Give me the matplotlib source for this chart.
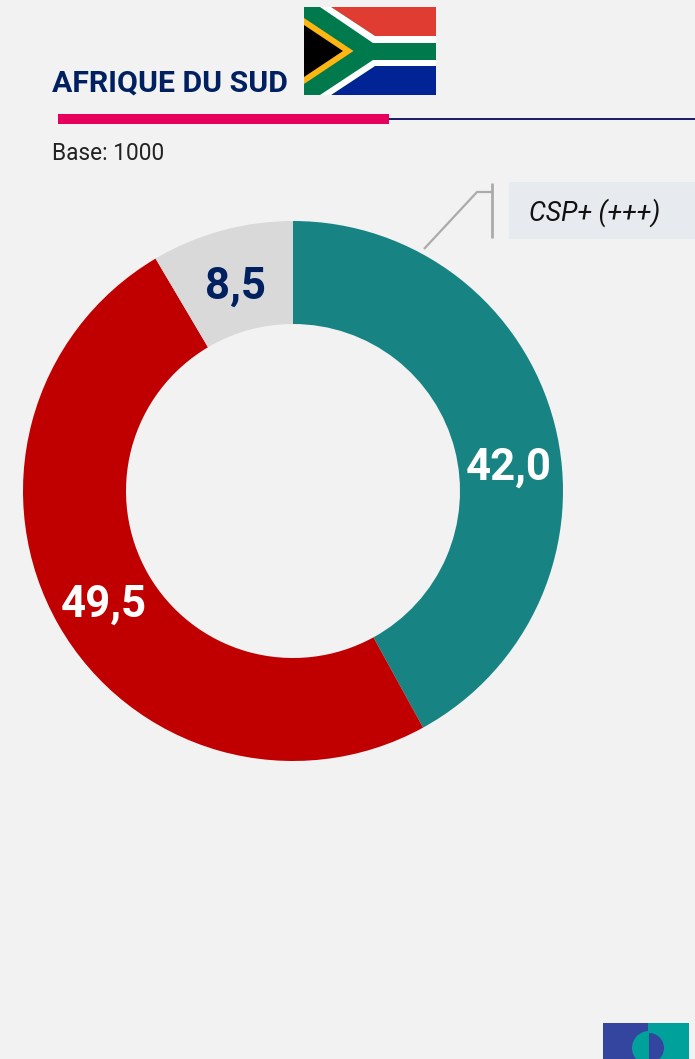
"""Donut chart for the Afrique du Sud CSP+ share, with flag and header rule."""
import matplotlib
matplotlib.use("Agg")
import matplotlib.pyplot as plt
from matplotlib.patches import Polygon, Rectangle, Wedge

W, H = 695, 1059

shares = [42.0, 49.5, 8.5]
share_labels = ["42,0", "49,5", "8,5"]
share_colors = ["#178483", "#C00000", "#D9D9D9"]
label_colors = ["white", "white", "#002060"]
label_pos = [(509, 467.5), (104, 604.5), (235.5, 286.5)]

TITLE = "AFRIQUE DU SUD"
BASE = "Base: 1000"
CALLOUT = "CSP+ (+++)"
BG = "#F2F2F2"
NAVY = "#002060"
FONT = ["Roboto", "DejaVu Sans"]

plt.rcParams["font.family"] = FONT


def draw_flag(ax):
    ax.add_patch(Rectangle((304, 7), 132, 88, color="#007A4D", lw=0))
    ax.add_patch(Polygon([(331, 7), (436, 7), (436, 36), (375, 36)], color="#E03C31", lw=0))
    ax.add_patch(Polygon([(331, 95), (436, 95), (436, 66), (375, 66)], color="#002395", lw=0))
    ax.add_patch(Polygon([(320, 7), (331, 7), (375, 36), (436, 36), (436, 43), (373, 43)],
                         color="white", lw=0))
    ax.add_patch(Polygon([(320, 95), (331, 95), (375, 66), (436, 66), (436, 60), (373, 60)],
                         color="white", lw=0))
    ax.add_patch(Polygon([(304, 18), (353.5, 51), (304, 84)], color="#FFB612", lw=0))
    ax.add_patch(Polygon([(304, 25), (343, 51), (304, 77)], color="black", lw=0))


def draw_logo(ax):
    ax.add_patch(Rectangle((603, 1023), 45, 36, color="#34459F", lw=0))
    ax.add_patch(Rectangle((648, 1023), 41, 36, color="#00A19A", lw=0))
    ax.add_patch(Wedge((649, 1048), 17, 90, 270, color="#00A19A", lw=0))
    ax.add_patch(Wedge((649, 1048), 15, 270, 90, color="#34459F", lw=0))


fig = plt.figure(figsize=(W / 100, H / 100), dpi=100, facecolor=BG)

# pixel-space layer for header and decoration
deco = fig.add_axes([0, 0, 1, 1])
deco.set_xlim(0, W)
deco.set_ylim(H, 0)
deco.axis("off")

deco.text(52, 83.5, TITLE, fontsize=21.8, fontweight="bold", color=NAVY, va="center", ha="left")
draw_flag(deco)
deco.add_patch(Rectangle((389, 118), 306, 2, color="#1F1F6B", lw=0))
deco.add_patch(Rectangle((58, 114), 331, 10, color="#E6005C", lw=0))
deco.text(52, 153, BASE, fontsize=16.3, color="#222222", va="center", ha="left")

deco.plot([424, 477, 492], [249, 192, 192], color="#ABABAB", lw=1.6, solid_capstyle="butt")
deco.plot([492, 492], [183, 238], color="#ABABAB", lw=2, solid_capstyle="butt")
deco.add_patch(Rectangle((509, 182), 186, 57, color="#E7EAEE", lw=0))
deco.text(529, 212.5, CALLOUT, fontsize=19.2, style="italic", color="#111111",
          va="center", ha="left")
draw_logo(deco)

# donut
R, CX, CY = 270, 293, 491
ax = fig.add_axes([(CX - R) / W, 1 - (CY + R) / H, 2 * R / W, 2 * R / H])
ax.pie(shares, colors=share_colors, startangle=90, counterclock=False, radius=1,
       wedgeprops={"width": 103 / R, "linewidth": 0})
ax.set_xlim(-1, 1)
ax.set_ylim(-1, 1)
ax.patch.set_alpha(0)

for lab, col, (x, y) in zip(share_labels, label_colors, label_pos):
    deco.text(x, y, lab, fontsize=31.5, fontweight="bold", color=col, ha="center", va="center",
              zorder=10)
deco.set_zorder(ax.get_zorder() + 1)
deco.patch.set_alpha(0)

fig.savefig("out.png", dpi=100, facecolor=BG)
print("wrote out.png")
